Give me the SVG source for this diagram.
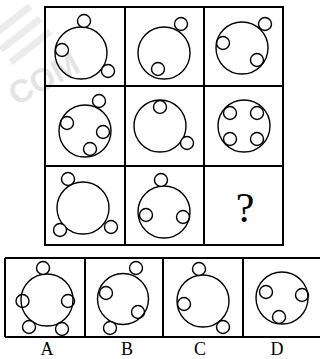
<svg xmlns="http://www.w3.org/2000/svg" width="320" height="359" viewBox="0 0 320 359">
<style>
.frame{fill:none;stroke:#000;stroke-width:2}
.big{fill:none;stroke:#000;stroke-width:1.4}
.sm{fill:#fff;stroke:#000;stroke-width:1.4}
.si{fill:none;stroke:#000;stroke-width:1.4}
.lbl{font-family:"Liberation Serif",serif;font-size:18px;text-anchor:middle;fill:#000}
.wm{font-family:"Liberation Sans",sans-serif;font-weight:bold;font-size:32px;fill:#e4e4e4}
</style>
<rect width="320" height="359" fill="#fff"/>
<g id="watermark">
<text class="wm" transform="translate(16,106) rotate(-28)">COM</text>
<g fill="#ececec" transform="rotate(-38 30 30)">
<rect x="-5" y="8" width="50" height="7"/>
<rect x="-5" y="24" width="50" height="7"/>
<rect x="-5" y="40" width="50" height="7"/>
</g>
</g>
<g id="grid">
<rect class="frame" x="45" y="7" width="238" height="238"/>
<line class="frame" x1="125" y1="7" x2="125" y2="245"/>
<line class="frame" x1="204" y1="7" x2="204" y2="245"/>
<line class="frame" x1="45" y1="86" x2="283" y2="86"/>
<line class="frame" x1="45" y1="166" x2="283" y2="166"/>
</g>
<g id="cell1">
<circle class="big" cx="81" cy="53" r="26"/>
<circle class="sm" cx="84" cy="21" r="6.5"/>
<circle class="si" cx="62" cy="50" r="6.5"/>
<circle class="sm" cx="108" cy="71" r="6.5"/>
</g>
<g id="cell2">
<circle class="big" cx="164" cy="53" r="26"/>
<circle class="sm" cx="181" cy="24" r="6.5"/>
<circle class="si" cx="158" cy="69" r="6.5"/>
</g>
<g id="cell3">
<circle class="big" cx="242" cy="48" r="26"/>
<circle class="sm" cx="265" cy="24" r="6.5"/>
<circle class="si" cx="223" cy="43" r="6.5"/>
<circle class="si" cx="257" cy="60" r="6.5"/>
</g>
<g id="cell4">
<circle class="big" cx="85" cy="131" r="26"/>
<circle class="sm" cx="99" cy="101" r="6.5"/>
<circle class="si" cx="67" cy="123" r="6.5"/>
<circle class="si" cx="103" cy="132" r="6.5"/>
<circle class="si" cx="90" cy="149" r="6.5"/>
</g>
<g id="cell5">
<circle class="big" cx="160" cy="126" r="26"/>
<circle class="si" cx="160" cy="107" r="6.5"/>
<circle class="sm" cx="187" cy="143" r="6.5"/>
</g>
<g id="cell6">
<circle class="big" cx="244" cy="126" r="26"/>
<circle class="si" cx="230" cy="113" r="6.5"/>
<circle class="si" cx="257" cy="113" r="6.5"/>
<circle class="si" cx="230" cy="139" r="6.5"/>
<circle class="si" cx="257" cy="139" r="6.5"/>
</g>
<g id="cell7">
<circle class="big" cx="83" cy="208" r="26"/>
<circle class="sm" cx="68" cy="179" r="6.5"/>
<circle class="sm" cx="60" cy="230" r="6.5"/>
<circle class="sm" cx="111" cy="227" r="6.5"/>
</g>
<g id="cell8">
<circle class="big" cx="164" cy="212" r="26"/>
<circle class="sm" cx="161" cy="180" r="6.5"/>
<circle class="si" cx="146" cy="215" r="6.5"/>
<circle class="si" cx="183" cy="217" r="6.5"/>
</g>
<g id="cell9">
<text x="245" y="222" font-family="Liberation Serif,serif" font-size="42" text-anchor="middle">?</text>
</g>
<g id="options-frame">
<line class="frame" x1="5" y1="258" x2="320" y2="258"/>
<line class="frame" x1="5" y1="337" x2="320" y2="337"/>
<line class="frame" x1="5" y1="258" x2="5" y2="337"/>
<line class="frame" x1="85" y1="258" x2="85" y2="337"/>
<line class="frame" x1="163" y1="258" x2="163" y2="337"/>
<line class="frame" x1="243" y1="258" x2="243" y2="337"/>
</g>
<g id="optA">
<circle class="big" cx="47" cy="300" r="26"/>
<circle class="sm" cx="43" cy="268" r="6.5"/>
<circle class="si" cx="22.5" cy="301" r="6.5"/>
<circle class="si" cx="68" cy="301" r="6.5"/>
<circle class="sm" cx="29" cy="327" r="6.5"/>
<circle class="sm" cx="62" cy="329" r="6.5"/>
<text class="lbl" x="47" y="355">A</text>
</g>
<g id="optB">
<circle class="big" cx="123" cy="299" r="25.5"/>
<circle class="sm" cx="136" cy="268" r="6.5"/>
<circle class="si" cx="106" cy="293" r="6.5"/>
<circle class="si" cx="138" cy="312" r="6.5"/>
<circle class="sm" cx="110" cy="328" r="6.5"/>
<text class="lbl" x="127" y="355">B</text>
</g>
<g id="optC">
<circle class="big" cx="203" cy="301" r="26"/>
<circle class="sm" cx="199" cy="269" r="6.5"/>
<circle class="si" cx="184" cy="304" r="6.5"/>
<circle class="sm" cx="223" cy="327" r="6.5"/>
<text class="lbl" x="200" y="355">C</text>
</g>
<g id="optD">
<circle class="big" cx="282" cy="298" r="26"/>
<circle class="si" cx="266" cy="292" r="6.5"/>
<circle class="si" cx="302" cy="295" r="6.5"/>
<circle class="si" cx="279" cy="317" r="6.5"/>
<text class="lbl" x="277" y="355">D</text>
</g>
</svg>
